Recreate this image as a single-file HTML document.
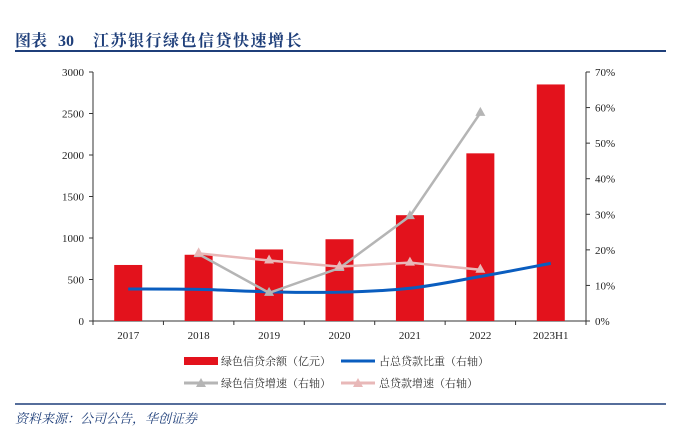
<!DOCTYPE html>
<html><head><meta charset="utf-8"><style>
body{margin:0;background:#fff;width:681px;height:431px;overflow:hidden;font-family:"Liberation Serif","Noto Serif CJK SC",serif}
svg text{font-family:"Liberation Serif","Noto Serif CJK SC",serif}
</style></head><body>
<svg width="681" height="431">
<text x="15" y="46" font-size="16" font-weight="bold" fill="#1f3f7a"><tspan>图表</tspan><tspan x="58">30</tspan><tspan x="93" letter-spacing="1.5">江苏银行绿色信贷快速增长</tspan></text>
<line x1="15" y1="51" x2="666" y2="51" stroke="#1f3f7a" stroke-width="2"/>
<g id="plot"></g>
<g font-size="11" fill="#333">
<rect x="184" y="357" width="34" height="8" fill="#e3121c"/>
<text x="221" y="365">绿色信贷余额（亿元）</text>
<line x1="341" y1="361" x2="375" y2="361" stroke="#0a5dbf" stroke-width="3"/>
<text x="379" y="365">占总贷款比重（右轴）</text>
<line x1="184" y1="383" x2="218" y2="383" stroke="#b5b5b5" stroke-width="3"/>
<polygon points="201,378 206,387 196,387" fill="#b5b5b5"/>
<text x="221" y="387">绿色信贷增速（右轴）</text>
<line x1="341" y1="383" x2="375" y2="383" stroke="#e8b8b8" stroke-width="3"/>
<polygon points="358,378 363,387 353,387" fill="#e8b8b8"/>
<text x="379" y="387">总贷款增速（右轴）</text>
</g>
<line x1="15" y1="404" x2="666" y2="404" stroke="#1f3f7a" stroke-width="1.5"/>
<text x="15" y="423" font-size="13" font-style="italic" fill="#1f3f7a">资料来源：公司公告，华创证券</text>
</svg>
<script>
const categories=["2017","2018","2019","2020","2021","2022","2023H1"];
const balance=[675,798,862,985,1275,2020,2850];
const share=[9.0,8.9,8.2,8.1,9.2,12.5,16.2];
const greenGrowth=[null,18.8,7.9,14.9,29.5,58.5,null];
const loanGrowth=[null,19.0,17.0,15.3,16.4,14.4,null];
const leftTicks=[0,500,1000,1500,2000,2500,3000];
const rightTicks=[0,10,20,30,40,50,60,70];
const NS="http://www.w3.org/2000/svg";
const g=document.getElementById('plot');
const X0=93,X1=586,Y0=321,Y1=72;
const band=(X1-X0)/categories.length;
const xc=i=>X0+band*(i+0.5);
const yl=v=>Y0-(v/3000)*(Y0-Y1);
const yr=v=>Y0-(v/70)*(Y0-Y1);
function mk(t,a){const e=document.createElementNS(NS,t);for(const k in a)e.setAttribute(k,a[k]);g.appendChild(e);return e;}
let e;
e=mk('line',{x1:X0,y1:Y1,x2:X0,y2:Y0,stroke:'#333'});


e=mk('line',{x1:X1,y1:Y1,x2:X1,y2:Y0,stroke:'#333'});


e=mk('line',{x1:X0,y1:Y0,x2:X1,y2:Y0,stroke:'#333'});


leftTicks.forEach(v=>{mk('line',{x1:X0-4,y1:yl(v),x2:X0,y2:yl(v),stroke:'#333'});
e=mk('text',{x:X0-9,y:yl(v)+4,'font-size':11,'text-anchor':'end',fill:'#222'});e.textContent=v;

});
rightTicks.forEach(v=>{mk('line',{x1:X1,y1:yr(v),x2:X1+4,y2:yr(v),stroke:'#333'});
e=mk('text',{x:X1+9,y:yr(v)+4,'font-size':11,fill:'#222'});e.textContent=v+'%';

});
for(let i=0;i<=categories.length;i++)mk('line',{x1:X0+band*i,y1:Y0,x2:X0+band*i,y2:Y0+4,stroke:'#333'});
categories.forEach((c,i)=>{e=mk('text',{x:xc(i),y:Y0+18,'font-size':11,'text-anchor':'middle',fill:'#222'});e.textContent=c;

});
balance.forEach((v,i)=>{e=mk('rect',{x:xc(i)-14,y:yl(v),width:28,height:Y0-yl(v),fill:'#e3121c'});

});
const pts=share.map((v,i)=>[xc(i),yr(v)]);
let d='M'+pts[0][0]+','+pts[0][1];
for(let i=0;i<pts.length-1;i++){const p0=pts[Math.max(0,i-1)],p1=pts[i],p2=pts[i+1],p3=pts[Math.min(pts.length-1,i+2)];
d+=` C${p1[0]+(p2[0]-p0[0])/6},${p1[1]+(p2[1]-p0[1])/6} ${p2[0]-(p3[0]-p1[0])/6},${p2[1]-(p3[1]-p1[1])/6} ${p2[0]},${p2[1]}`;}
e=mk('path',{d:d,fill:'none',stroke:'#0a5dbf','stroke-width':3});


function tri(arr,col,name){const p=[];arr.forEach((v,i)=>{if(v!=null)p.push([xc(i),yr(v)]);});
e=mk('polyline',{points:p.map(q=>q.join(',')).join(' '),fill:'none',stroke:col,'stroke-width':2.5});


p.forEach(q=>{e=mk('polygon',{points:`${q[0]},${q[1]-6} ${q[0]+5},${q[1]+3} ${q[0]-5},${q[1]+3}`,fill:col});

});}
tri(greenGrowth,'#b5b5b5','green-growth');
tri(loanGrowth,'#e8b8b8','loan-growth');
</script>
</body></html>
